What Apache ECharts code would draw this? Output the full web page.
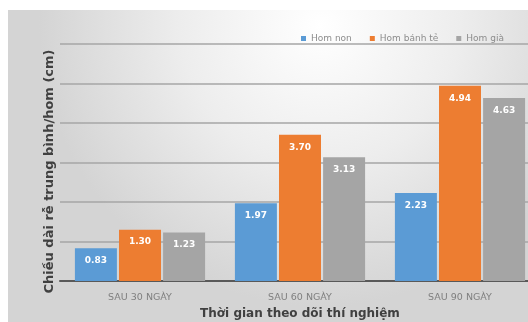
<!DOCTYPE html>
<html><head><meta charset="utf-8">
<script src="https://cdn.jsdelivr.net/npm/echarts@6/dist/echarts.min.js"></script>
<style>html,body{margin:0;padding:0;background:#fff}#c{width:528px;height:322px}</style>
</head><body><div id="c"></div>
<script>
const categories = ['SAU 30 NGÀY', 'SAU 60 NGÀY', 'SAU 90 NGÀY'];
const seriesNames = ['Hom non', 'Hom bánh tẻ', 'Hom già'];
const homNon = [0.83, 1.97, 2.23];
const homBanhTe = [1.30, 3.70, 4.94];
const homGia = [1.23, 3.13, 4.63];
const yTicks = [0, 1, 2, 3, 4, 5, 6];
const colors = ['#5b9bd5', '#ed7d31', '#a5a5a5'];

const chart = echarts.init(document.getElementById('c'), null, {renderer: 'canvas'});
const label = {
  show: true, position: 'insideTop', distance: 8, color: '#ffffff',
  fontSize: 9, fontWeight: 'bold', fontFamily: 'DejaVu Sans',
  formatter: p => p.value.toFixed(2)
};
function mk(name, data, color) {
  return {name, type: 'bar', data, barWidth: 42, barGap: '5%',
    itemStyle: {color}, label};
}
chart.setOption({
  backgroundColor: '#ffffff',
  animation: false,
  graphic: [{type: 'rect', z: -100, silent: true,
    shape: {x: 8, y: 10, width: 520, height: 312},
    style: {fill: {type: 'radial', x: 0.6, y: 0.05, r: 0.9,
      colorStops: [{offset: 0, color: '#ffffff'}, {offset: 0.5, color: '#ededed'}, {offset: 1, color: '#d4d4d4'}]}}}],
  legend: {
    data: seriesNames, left: 296, top: 29, itemWidth: 5, itemHeight: 5, itemGap: 18,
    icon: 'rect', textStyle: {fontSize: 9, color: '#8c8c8c', fontFamily: 'DejaVu Sans'}
  },
  grid: {left: 60, width: 480, top: 44, height: 237, containLabel: false, outerBoundsMode: 'none'},
  xAxis: {
    type: 'category', data: categories,
    axisLine: {lineStyle: {color: '#595959', width: 2}},
    axisTick: {show: false},
    axisLabel: {fontSize: 9.5, color: '#7f7f7f', margin: 12, fontFamily: 'DejaVu Sans'},
    name: 'Thời gian theo dõi thí nghiệm', nameLocation: 'middle', nameGap: 27,
    nameTextStyle: {fontSize: 12, fontWeight: 'bold', color: '#404040', fontFamily: 'DejaVu Sans'}
  },
  yAxis: {
    type: 'value', min: yTicks[0], max: yTicks[yTicks.length - 1], interval: 1,
    axisLine: {show: false}, axisTick: {show: false},
    axisLabel: {show: false},
    splitLine: {lineStyle: {color: '#a6a6a6', width: 1.5}},
    name: 'Chiều dài rễ trung bình/hom (cm)', nameLocation: 'middle', nameGap: 4,
    nameRotate: 90,
    nameTextStyle: {fontSize: 13, fontWeight: 'bold', color: '#404040', fontFamily: 'DejaVu Sans', padding: [0, 18, 0, 0]}
  },
  series: [mk(seriesNames[0], homNon, colors[0]), mk(seriesNames[1], homBanhTe, colors[1]), mk(seriesNames[2], homGia, colors[2])]
});
</script></body></html>
